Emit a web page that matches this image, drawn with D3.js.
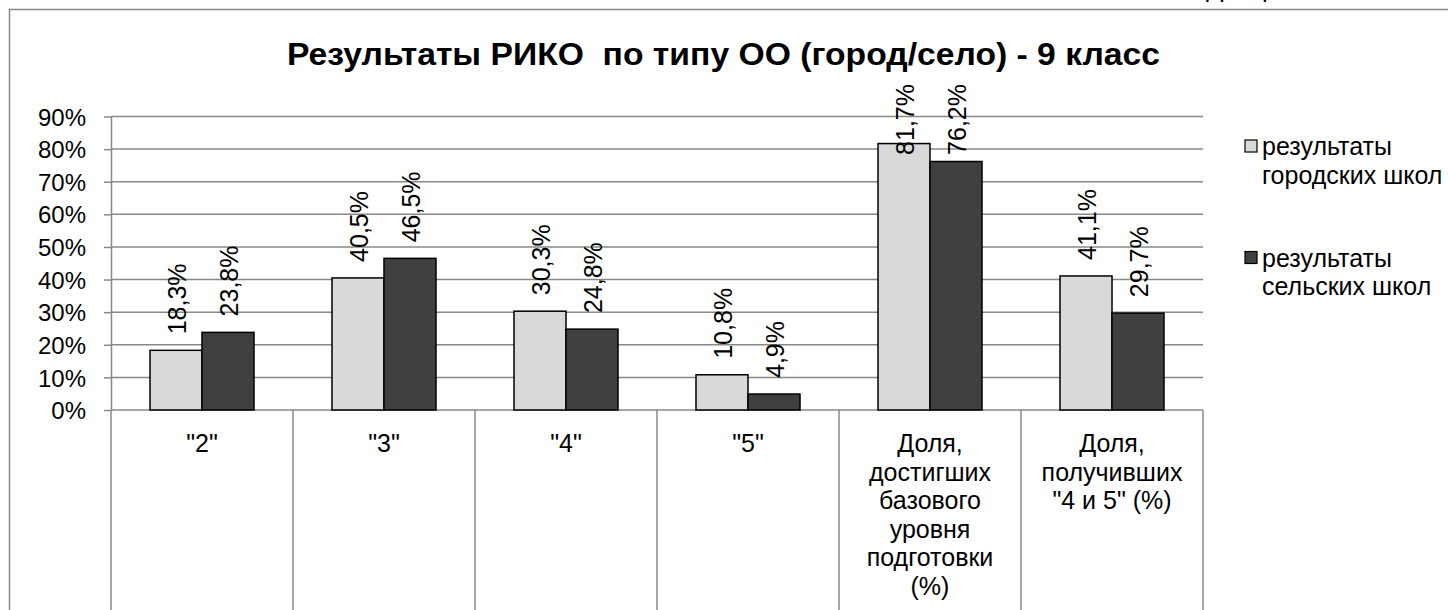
<!DOCTYPE html>
<html>
<head>
<meta charset="utf-8">
<script src="https://cdn.jsdelivr.net/npm/d3@7"></script>
<style>
  html, body { margin: 0; padding: 0; background: #fff; }
  svg { display: block; }
  svg text { fill: #000; }
</style>
</head>
<body>
<svg id="chart" width="1448" height="610"></svg>
<script>
// Chart data
const categoryLines = [
	['"2"'],
	['"3"'],
	['"4"'],
	['"5"'],
	['Доля,', 'достигших', 'базового', 'уровня', 'подготовки', '(%)'],
	['Доля,', 'получивших', '"4 и 5" (%)']
];
const cityValues = [18.3, 40.5, 30.3, 10.8, 81.7, 41.1];
const villageValues = [23.8, 46.5, 24.8, 4.9, 76.2, 29.7];
const seriesNames = [['результаты', 'городских школ'], ['результаты', 'сельских школ']];
const seriesColors = ['#d9d9d9', '#404040'];
const yTicks = [0, 10, 20, 30, 40, 50, 60, 70, 80, 90];
const chartTitle = 'Результаты РИКО  по типу ОО (город/село) - 9 класс';

// No serif face is installed, so a Times-like look is not possible; use Liberation Sans
const font = '"Liberation Sans", Arial, sans-serif';
const svg = d3.select('#chart').attr('font-family', font);
const plot = { left: 111, right: 1203, top: 116.5, bottom: 410 };
const gridColor = '#888888';

// Scales
const yScale = d3.scaleLinear().domain([0, 90]).range([plot.bottom, plot.top]);
const xScale = d3.scaleBand().domain(d3.range(categoryLines.length)).range([plot.left, plot.right]).padding(0);
const xInner = d3.scaleBand().domain([0, 1]).range([0, xScale.bandwidth()]).paddingInner(0).paddingOuter(0.75);

// Cut-off text above the chart frame (belongs to the page the chart sits on)
svg.append('text')
	.attr('x', 1206).attr('y', -3)
	.style('font-size', '26px')
	.text('Диаграмма');

// Chart frame
svg.append('rect')
	.attr('x', 9.5).attr('y', 9.5)
	.attr('width', 1600).attr('height', 800)
	.attr('fill', 'none').attr('stroke', gridColor).attr('stroke-width', 1.5);

// Title, stretched to the width it takes in the reference
svg.append('text')
	.attr('x', 723.5).attr('y', 65)
	.attr('text-anchor', 'middle')
	.attr('textLength', 873)
	.attr('lengthAdjust', 'spacingAndGlyphs')
	.style('font-size', '32px').style('font-weight', 'bold').style('white-space', 'pre')
	.text(chartTitle);

// Horizontal gridlines
svg.append('g').attr('class', 'grid')
	.selectAll('line')
	.data(yTicks)
	.join('line')
	.attr('x1', plot.left).attr('x2', plot.right)
	.attr('y1', d => yScale(d)).attr('y2', d => yScale(d))
	.attr('stroke', gridColor).attr('stroke-width', 1.5);

// Y axis with percent labels
const yAxis = d3.axisLeft(yScale)
	.tickValues(yTicks)
	.tickSize(7)
	.tickSizeOuter(0)
	.tickPadding(18)
	.tickFormat(d => d + '%');

const yG = svg.append('g')
	.attr('class', 'y axis')
	.attr('transform', `translate(${plot.left},0)`)
	.call(yAxis)
	.attr('font-family', font)
	.attr('font-size', 24);

yG.select('.domain').attr('stroke', gridColor).attr('stroke-width', 1.5);
yG.selectAll('.tick line').attr('stroke', gridColor).attr('stroke-width', 1.5);
yG.selectAll('.tick text')
	.attr('dy', '0.36em')
	.attr('fill', '#000');

// Category dividers run from the axis down through the label area
const dividers = xScale.domain().map(i => xScale(i)).concat([plot.right]);
svg.append('g').attr('class', 'x dividers')
	.selectAll('line')
	.data(dividers)
	.join('line')
	.attr('x1', d => d).attr('x2', d => d)
	.attr('y1', plot.bottom).attr('y2', 640)
	.attr('stroke', gridColor).attr('stroke-width', 1.5);

// Category labels (multi-line, centred in each category)
const catG = svg.append('g').attr('class', 'x labels');
categoryLines.forEach((lines, i) => {
	const t = catG.append('text')
		.attr('text-anchor', 'middle')
		.style('font-size', '25px');
	lines.forEach((line, j) => {
		t.append('tspan')
			.attr('x', xScale(i) + xScale.bandwidth() / 2)
			.attr('y', 452 + j * 28.5)
			.text(line);
	});
});

// Bars
const series = [cityValues, villageValues];
const barG = svg.append('g').attr('class', 'bars');
series.forEach((values, s) => {
	barG.selectAll(`rect.s${s}`)
		.data(values)
		.join('rect')
		.attr('class', `s${s}`)
		.attr('x', (d, i) => xScale(i) + xInner(s))
		.attr('y', d => yScale(d))
		.attr('width', xInner.bandwidth())
		.attr('height', d => plot.bottom - yScale(d))
		.attr('fill', seriesColors[s])
		.attr('stroke', '#000').attr('stroke-width', 1.5);
});

// Rotated value labels above the bars
const fmt = v => v.toFixed(1).replace('.', ',') + '%';
const labelG = svg.append('g').attr('class', 'value labels');
series.forEach((values, s) => {
	values.forEach((v, i) => {
		const cx = xScale(i) + xInner(s) + xInner.bandwidth() / 2;
		const label = labelG.append('text')
			.attr('text-anchor', 'start')
			.attr('dy', '0.38em')
			.style('font-size', '25px')
			.text(fmt(v));
		// Keep the label inside the chart: shift it down if it would run past the top
		const len = label.node().getComputedTextLength();
		const base = Math.max(yScale(v) - 16, 84 + len);
		label.attr('transform', `translate(${cx},${base}) rotate(-90)`);
	});
});

// Legend
const legend = svg.append('g').attr('class', 'legend');
const legendBase = [155, 266.5];
seriesNames.forEach((lines, s) => {
	legend.append('rect')
		.attr('x', 1245).attr('y', legendBase[s] - 15)
		.attr('width', 12).attr('height', 12)
		.attr('fill', seriesColors[s])
		.attr('stroke', '#000').attr('stroke-width', 1.2);
	const t = legend.append('text').style('font-size', '25px');
	lines.forEach((line, j) => {
		t.append('tspan')
			.attr('x', 1262)
			.attr('y', legendBase[s] + j * 28.5)
			.text(line);
	});
});
</script>
</body>
</html>
